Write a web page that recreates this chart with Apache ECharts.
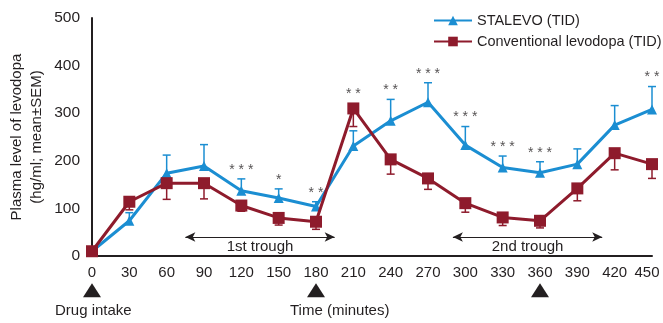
<!DOCTYPE html>
<html>
<head>
<meta charset="utf-8">
<script src="https://cdn.jsdelivr.net/npm/echarts@6/dist/echarts.min.js"></script>
<style>
  html, body { margin: 0; padding: 0; background: #fff; }
  #chart { width: 663px; height: 323px; }
</style>
</head>
<body>
<div id="chart"></div>
<script>
// time points (minutes)
var times = [0, 30, 60, 90, 120, 150, 180, 210, 240, 270, 300, 330, 360, 390, 420, 450];
// STALEVO mean and SEM
var stalevo = [10, 74, 174, 189, 137, 122, 104, 231, 284, 323, 233, 186, 175, 193, 275, 308];
var stalevoSem = [0, 17, 38, 45, 25, 19, 10, 32, 45, 41, 39, 24, 23, 32, 41, 48];
// conventional levodopa mean and SEM
var conv = [10, 114, 153, 153, 106, 80, 72, 310, 203, 163, 111, 81, 74, 142, 216, 193];
var convSem = [0, 17, 34, 33, 12, 15, 16, 38, 31, 23, 19, 17, 15, 26, 35, 30];
// significance marks
var sigTimes = [120, 150, 180, 210, 240, 270, 300, 330, 360, 450];
var sigLabels = ['***', '*', '**', '**', '**', '***', '***', '***', '***', '**'];
// drug intake times
var doseTimes = [0, 180, 360];
// trough ranges
var trough1 = [75, 195];
var trough2 = [290, 410];

var blue = '#1b8ed2';
var red = '#8e1b2c';
var ink = '#231f20';
var font = 'Liberation Sans';

var chart = echarts.init(document.getElementById('chart'));

function pairs(ys) {
  return times.map(function (t, i) { return [t, ys[i]]; });
}

// error bar data: [t, mean, end]
function errData(ys, sem, dir) {
  return times.map(function (t, i) { return [t, ys[i], ys[i] + dir * sem[i]]; })
    .filter(function (d) { return d[1] !== d[2]; });
}

function errRender(color) {
  return function (params, api) {
    var p1 = api.coord([api.value(0), api.value(1)]);
    var p2 = api.coord([api.value(0), api.value(2)]);
    var w = 4;
    return {
      type: 'group',
      children: [
        { type: 'line', shape: { x1: p1[0], y1: p1[1], x2: p2[0], y2: p2[1] }, style: { stroke: color, lineWidth: 1.5 } },
        { type: 'line', shape: { x1: p2[0] - w, y1: p2[1], x2: p2[0] + w, y2: p2[1] }, style: { stroke: color, lineWidth: 1.5 } }
      ]
    };
  };
}

// stars sit above the highest mark at each time
var sigData = sigTimes.map(function (t, k) {
  var i = times.indexOf(t);
  var top = Math.max(stalevo[i] + stalevoSem[i], conv[i] + 12);
  return { value: [t, top], label: { formatter: sigLabels[k].split('').join(' ') } };
});

var option = {
  animation: false,
  grid: { left: 92, right: 11, top: 18, bottom: 67, outerBoundsMode: 'none', containLabel: false },
  legend: {
    data: ['STALEVO (TID)', 'Conventional levodopa (TID)'],
    orient: 'vertical',
    left: 428,
    top: 8,
    itemWidth: 38,
    itemHeight: 12,
    itemGap: 6,
    textStyle: { color: ink, fontSize: 14.5, fontFamily: font }
  },
  xAxis: {
    type: 'value',
    min: 0,
    max: 450,
    interval: 30,
    axisLine: { lineStyle: { color: ink, width: 2 } },
    axisTick: { show: false },
    splitLine: { show: false },
    axisLabel: {
      color: ink, fontSize: 15, fontFamily: font, margin: 9,
      // keep the last label inside the picture
      formatter: function (v) { return v === 450 ? '{last|' + v + '}' : String(v); },
      rich: { last: { color: ink, fontSize: 15, fontFamily: font, padding: [0, 10, 0, 0] } }
    }
  },
  yAxis: {
    type: 'value',
    min: 0,
    max: 500,
    interval: 100,
    name: 'Plasma level of levodopa\n(hg/ml; mean±SEM)',
    nameLocation: 'middle',
    nameRotate: 90,
    nameGap: 45,
    nameMoveOverlap: false,
    nameTextStyle: { color: ink, fontSize: 15, fontFamily: font, lineHeight: 20 },
    axisLine: { show: true, lineStyle: { color: ink, width: 2 } },
    axisTick: { show: false },
    splitLine: { show: false },
    axisLabel: { color: ink, fontSize: 15.5, fontFamily: font, margin: 12 }
  },
  graphic: [
    { type: 'text', left: 55, top: 303, style: { text: 'Drug intake', fill: ink, font: '15px ' + font } },
    { type: 'text', left: 290, top: 303, style: { text: 'Time (minutes)', fill: ink, font: '15px ' + font } }
  ],
  series: [
    {
      type: 'custom',
      renderItem: errRender(blue),
      data: errData(stalevo, stalevoSem, 1),
      z: 1
    },
    {
      type: 'custom',
      renderItem: errRender(red),
      data: errData(conv, convSem, -1),
      z: 1
    },
    {
      name: 'STALEVO (TID)',
      type: 'line',
      data: pairs(stalevo),
      color: blue,
      lineStyle: { width: 3 },
      symbol: 'triangle',
      symbolSize: 10,
      showAllSymbol: true,
      z: 3
    },
    {
      name: 'Conventional levodopa (TID)',
      type: 'line',
      data: pairs(conv),
      color: red,
      lineStyle: { width: 3 },
      symbol: 'rect',
      symbolSize: 12,
      showAllSymbol: true,
      z: 4,
      markLine: {
        silent: true,
        symbol: ['arrow', 'arrow'],
        symbolSize: [7, 10],
        lineStyle: { color: ink, width: 1.2, type: 'solid' },
        label: { position: 'insideMiddleBottom', color: ink, fontSize: 15, fontFamily: font, distance: 2 },
        data: [
          [{ coord: [trough1[0], 40], name: '1st trough' }, { coord: [trough1[1], 40] }],
          [{ coord: [trough2[0], 40], name: '2nd trough' }, { coord: [trough2[1], 40] }]
        ]
      }
    },
    {
      type: 'scatter',
      data: sigData,
      symbolSize: 0,
      silent: true,
      label: { show: true, position: 'top', distance: 2, color: ink, fontSize: 14, fontFamily: font },
      z: 5
    },
    {
      type: 'scatter',
      data: doseTimes.map(function (t) { return [t, -72]; }),
      symbol: 'triangle',
      symbolSize: [18, 14],
      itemStyle: { color: ink, opacity: 1 },
      clip: false,
      silent: true
    }
  ]
};

chart.setOption(option);
</script>
</body>
</html>
